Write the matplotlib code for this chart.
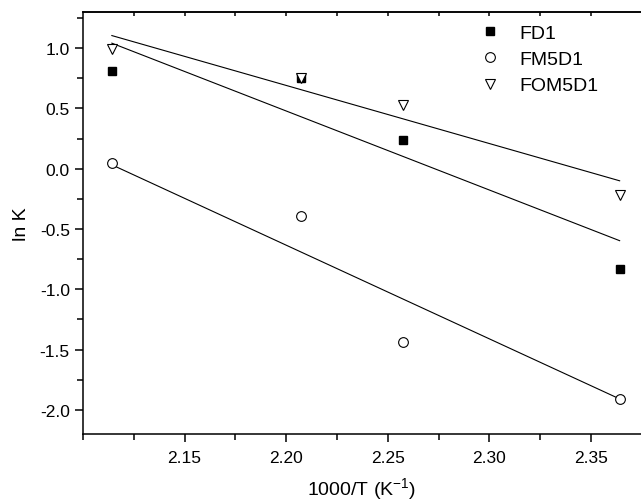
import numpy as np
import matplotlib
matplotlib.use("Agg")
import matplotlib.pyplot as plt
from matplotlib.ticker import MultipleLocator, FormatStrFormatter

plt.rcParams['font.family'] = ['Liberation Sans', 'DejaVu Sans']

# 1000/T for 200, 180, 170, 150 C
inv_T = [2.1142, 2.2075, 2.2573, 2.3641]
fd1 = [0.81, 0.75, 0.24, -0.83]
fm5d1 = [0.05, -0.39, -1.44, -1.91]
fom5d1 = [0.99, 0.75, 0.53, -0.22]

# linear fits ln K = a + b*(1000/T) as drawn in the figure
fit_a = [14.900, 16.460, 11.295]
fit_b = [-6.555, -7.770, -4.820]

fig = plt.figure(figsize=(6.41, 5.02), dpi=100)
ax = fig.add_axes([83/641, 1 - 435/502, 560/641, (435 - 13)/502])

x = np.array([min(inv_T), max(inv_T)])
for a, b in zip(fit_a, fit_b):
    ax.plot(x, a + b*x, color='black', lw=0.8)

ax.plot(inv_T, fd1, 's', ms=5.5, mfc='black', mec='black', ls='none', label='FD1')
ax.plot(inv_T, fm5d1, 'o', ms=7, mfc='white', mec='black', mew=0.8, ls='none', label='FM5D1')
ax.plot(inv_T, fom5d1, 'v', ms=7, mfc='white', mec='black', mew=0.8, ls='none', label='FOM5D1')

ax.set_xlim(2.10, 2.3756)
ax.set_ylim(-2.2, 1.3)
ax.set_xticks([2.15, 2.20, 2.25, 2.30, 2.35])
ax.xaxis.set_minor_locator(MultipleLocator(0.025))
ax.yaxis.set_major_locator(MultipleLocator(0.5))
ax.yaxis.set_minor_locator(MultipleLocator(0.25))
ax.xaxis.set_major_formatter(FormatStrFormatter('%.2f'))
ax.yaxis.set_major_formatter(FormatStrFormatter('%.1f'))
ax.tick_params(which='major', direction='out', length=6, width=1.1, labelsize=12.5)
ax.tick_params(axis='x', which='major', pad=5.5)
ax.tick_params(which='minor', direction='out', length=4, width=1.1)

for s in ['left', 'bottom', 'top']:
    ax.spines[s].set_linewidth(1.1)
ax.spines['right'].set_visible(False)

top = ax.secondary_xaxis('top')
top.set_xticks(np.arange(2.125, 2.376, 0.025))
top.tick_params(direction='in', length=3, width=1.1, labeltop=False)
top.spines['top'].set_linewidth(1.1)

ax.set_xlabel('1000/T (K$^{\\mathregular{-1}}$)', fontsize=14)
ax.set_ylabel('ln K', fontsize=14)
ax.xaxis.set_label_coords(0.497, -0.098)
ax.yaxis.set_label_coords(-0.095, 0.5)

ax.legend(loc='upper left', bbox_to_anchor=(478/641, 1 - 25/502), bbox_transform=fig.transFigure,
          frameon=False, fontsize=14, handlelength=1.2, handletextpad=0.95, labelspacing=0.45,
          borderaxespad=0, borderpad=0)

fig.savefig('out.png', dpi=100)
